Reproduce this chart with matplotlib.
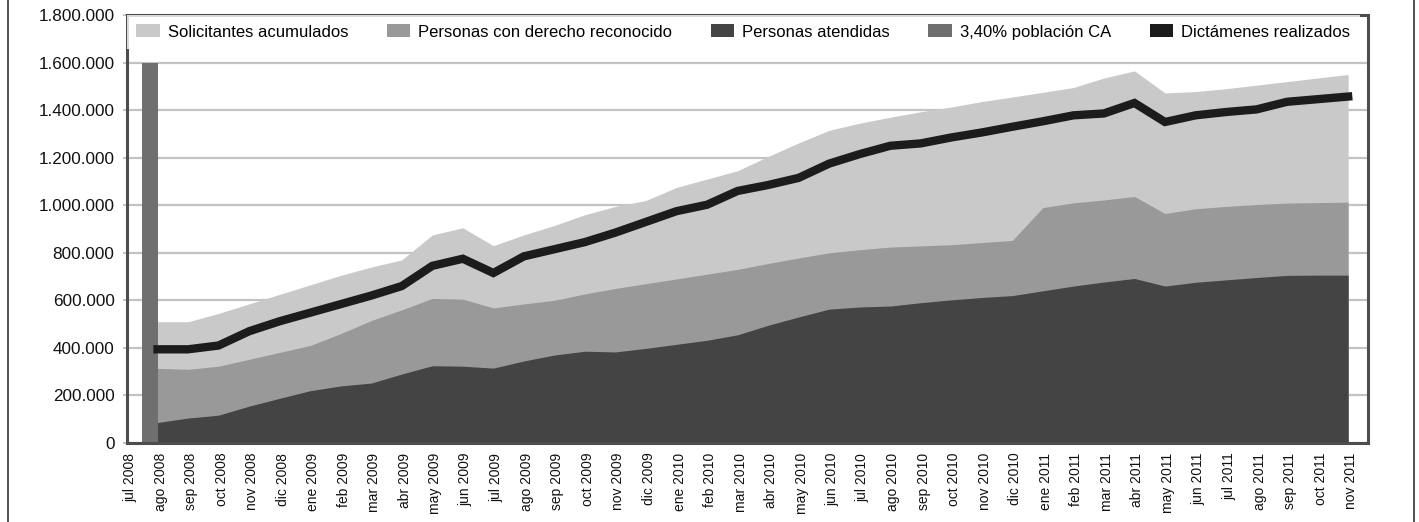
import matplotlib
matplotlib.use('Agg')
import matplotlib.pyplot as plt
import matplotlib.transforms as mtransforms
from matplotlib.patches import Patch
from matplotlib.lines import Line2D
from matplotlib.ticker import FuncFormatter, MultipleLocator
import numpy as np

meses = ['jul 2008', 'ago 2008', 'sep 2008', 'oct 2008', 'nov 2008', 'dic 2008',
         'ene 2009', 'feb 2009', 'mar 2009', 'abr 2009', 'may 2009', 'jun 2009',
         'jul 2009', 'ago 2009', 'sep 2009', 'oct 2009', 'nov 2009', 'dic 2009',
         'ene 2010', 'feb 2010', 'mar 2010', 'abr 2010', 'may 2010', 'jun 2010',
         'jul 2010', 'ago 2010', 'sep 2010', 'oct 2010', 'nov 2010', 'dic 2010',
         'ene 2011', 'feb 2011', 'mar 2011', 'abr 2011', 'may 2011', 'jun 2011',
         'jul 2011', 'ago 2011', 'sep 2011', 'oct 2011', 'nov 2011']

# values from ago 2008 to nov 2011 (jul 2008 has no data for these series)
solicitantes = [510000, 510000, 545000, 585000, 625000, 665000, 705000, 740000, 770000, 875000,
                905000, 830000, 875000, 915000, 960000, 995000, 1020000, 1075000, 1110000, 1145000,
                1205000, 1262000, 1315000, 1345000, 1370000, 1393000, 1413000, 1436000, 1455000, 1475000,
                1495000, 1535000, 1565000, 1472000, 1478000, 1490000, 1505000, 1520000, 1535000, 1550000]
derecho = [314000, 310000, 323000, 352000, 381000, 410000, 460000, 515000, 560000, 608000,
           605000, 568000, 585000, 600000, 627000, 650000, 670000, 690000, 710000, 730000,
           755000, 778000, 800000, 813000, 824000, 829000, 834000, 843000, 852000, 990000,
           1010000, 1022000, 1037000, 965000, 985000, 995000, 1003000, 1009000, 1011000, 1013000]
atendidas = [86000, 105000, 117000, 155000, 188000, 220000, 240000, 252000, 290000, 325000,
             323000, 315000, 345000, 370000, 386000, 383000, 398000, 415000, 432000, 455000,
             495000, 530000, 563000, 572000, 576000, 590000, 602000, 612000, 620000, 640000,
             660000, 677000, 692000, 660000, 676000, 686000, 696000, 705000, 706000, 706000]
dictamenes = [394000, 394000, 410000, 470000, 512000, 548000, 584000, 620000, 660000, 745000,
              775000, 715000, 785000, 815000, 845000, 885000, 930000, 975000, 1002000, 1060000,
              1085000, 1115000, 1175000, 1215000, 1250000, 1260000, 1285000, 1306000, 1330000, 1353000,
              1378000, 1386000, 1430000, 1350000, 1378000, 1392000, 1403000, 1435000, 1446000, 1457000]
poblacion_ca = [1600000]  # jul 2008 only

labels = ['Solicitantes acumulados', 'Personas con derecho reconocido', 'Personas atendidas',
          '3,40% población CA', 'Dictámenes realizados']
colors = ['#c9c9c9', '#999999', '#444444', '#6f6f6f', '#1c1c1c']

fig = plt.figure(figsize=(14.19, 5.22), dpi=100)
ax = fig.add_axes([127/1419, 1 - 443/522, (1368-127)/1419, (443-15)/522])

x_all = np.arange(len(meses))
x_area = x_all[1:]

ax.fill_between(x_area, 0, solicitantes, color=colors[0], lw=0, zorder=2)
ax.fill_between(x_area, 0, derecho, color=colors[1], lw=0, zorder=3)
ax.fill_between(x_area, 0, atendidas, color=colors[2], lw=0, zorder=4)
ax.bar(x_all[:1] + 0.49, poblacion_ca, width=0.52, align='edge', color=colors[3], lw=0, zorder=5)
ax.plot(x_area, dictamenes, color=colors[4], lw=6, solid_joinstyle='miter', zorder=6)

ax.set_xlim(0.118, 40.65)
ax.set_ylim(0, 1800000)
ax.yaxis.set_major_locator(MultipleLocator(200000))
ax.yaxis.set_major_formatter(FuncFormatter(lambda v, p: f"{int(v):,}".replace(',', '.')))
ax.grid(axis='y', color='#c3c3c3', lw=1.6, zorder=0)
ax.set_axisbelow(True)

for s in ax.spines.values():
    s.set_color('#4d4d4d')
    s.set_linewidth(2.2)
    s.set_zorder(7)

ax.tick_params(axis='y', length=3, width=1.4, color='#c3c3c3', pad=6, labelsize=12.3,
               labelcolor='#111111')
for t in ax.get_yticklabels():
    t.set_fontfamily(['Liberation Sans', 'DejaVu Sans'])

ax.set_xticks(x_all)
ax.set_xticklabels(meses, rotation=90, fontsize=10,
                   fontfamily=['Liberation Sans', 'DejaVu Sans'],
                   color='#111111')
ax.tick_params(axis='x', length=0, pad=7)
off = mtransforms.ScaledTranslation(3/100, 0, fig.dpi_scale_trans)
for t in ax.get_xticklabels():
    t.set_transform(t.get_transform() + off)

handles = [Patch(facecolor=c, edgecolor='none') for c in colors]
leg = ax.legend(handles, labels, ncol=5, loc='upper left', bbox_to_anchor=(0.0, 1.0),
                bbox_transform=ax.transAxes, frameon=True, fancybox=False,
                prop={'family': ['Liberation Sans', 'DejaVu Sans'], 'size': 12},
                handlelength=1.4, handleheight=0.85, handletextpad=0.5,
                columnspacing=2.3, borderaxespad=0.0, borderpad=0.55)
leg.get_frame().set_facecolor('white')
leg.get_frame().set_edgecolor('none')
leg.set_zorder(8)

# outer frame of the figure
fig.add_artist(Line2D([8/1419, 8/1419], [0, 1], transform=fig.transFigure, color='#333333', lw=1.2))
fig.add_artist(Line2D([1413.5/1419, 1413.5/1419], [0, 1], transform=fig.transFigure, color='#333333', lw=1.2))

fig.savefig('out.png', dpi=100)
